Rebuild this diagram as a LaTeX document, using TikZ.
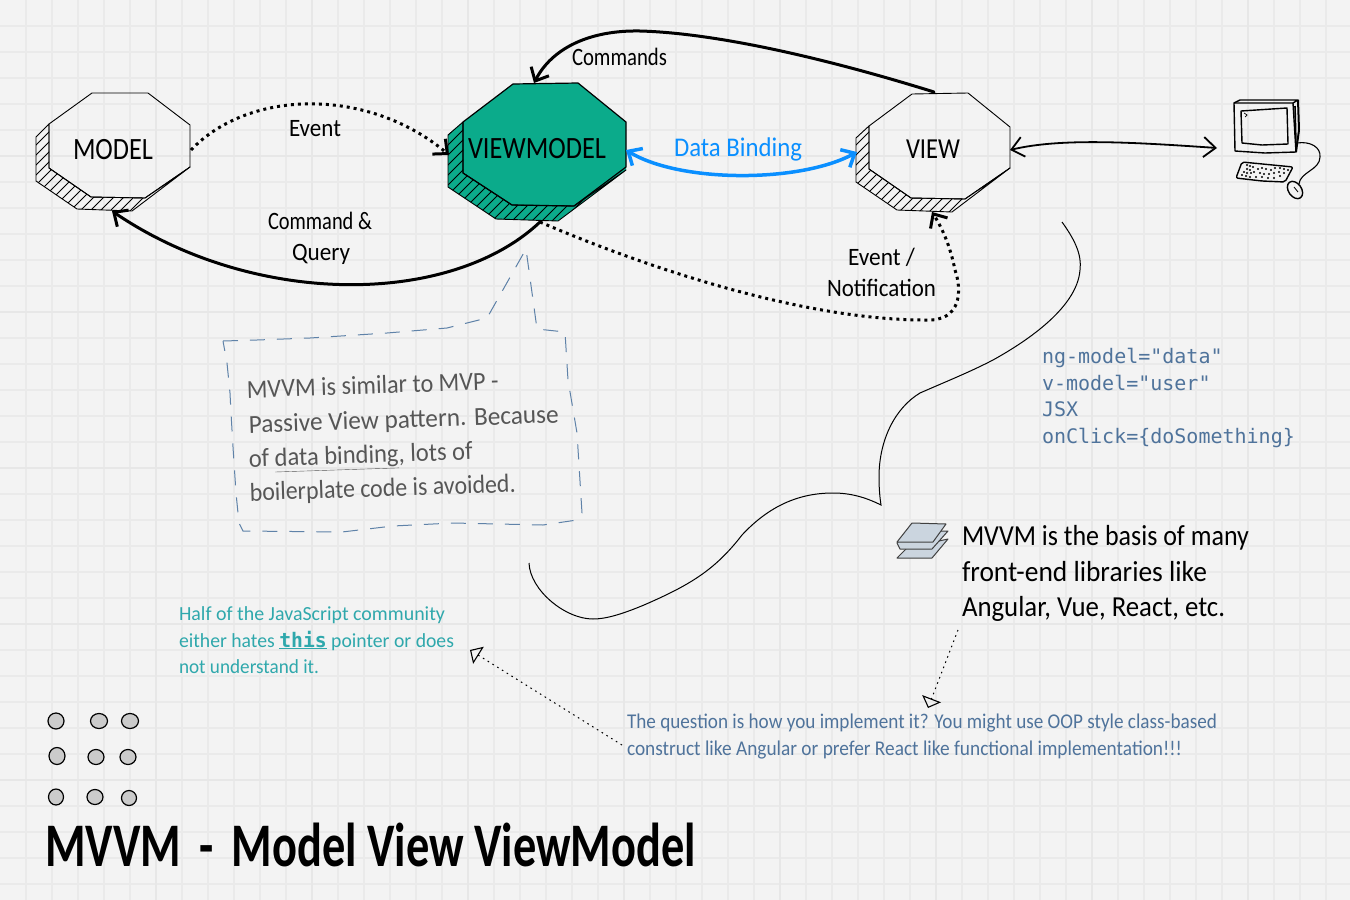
\documentclass[tikz,border=0pt]{standalone}
\usepackage{fontspec}
\usepackage{graphicx}
\setmainfont{Carlito}
\newfontfamily\codefont{DejaVu Sans Mono}
\usetikzlibrary{arrows.meta}
\definecolor{bgcol}{HTML}{F3F3F3}
\definecolor{gridcol}{HTML}{EAEAEA}
\definecolor{gridmaj}{HTML}{E7E7E7}
\definecolor{vmgreen}{HTML}{0BAB8B}
\definecolor{bindblue}{HTML}{0A8FFF}
\definecolor{noteblue}{HTML}{4F739B}
\definecolor{dashblue}{HTML}{5F82A8}
\definecolor{noteteal}{HTML}{2FA8AC}
\definecolor{notegray}{HTML}{565656}
\definecolor{sheetcol}{HTML}{CBD5DF}
\definecolor{dotcol}{HTML}{CBCBCB}
% width-fitted text: #1 width, #2 font size, #3 text
\newcommand\hw[3]{\resizebox{#1pt}{\height}{\fontsize{#2pt}{#2pt}\selectfont #3}}
\newcommand\hatchband[3]{%
  \begin{scope}
    \clip #1;
    \foreach \k in {0,...,60}{
      \pgfmathsetmacro\hx{#2-150+\k*#3}
      \pgfmathsetmacro\hy{\hx+150}
      \draw[hatchline] (\hx,245) -- (\hy,95);
    }
  \end{scope}
  \draw[octaline] #1;
}
\tikzset{
  lbl/.style={anchor=base west,inner sep=0pt,outer sep=0pt},
  octaline/.style={draw=black,line width=0.9pt,line join=round},
  hatchline/.style={draw=black,line width=0.75pt},
  heavy/.style={draw=black,line width=3pt,line cap=round,-{Straight Barb[length=11pt,width=20pt,line width=3pt]}},
  heavydot/.style={draw=black,line width=3pt,dash pattern=on 3pt off 4pt,-{Straight Barb[length=11pt,width=20pt,line width=3pt]}},
  bindarrow/.style={draw=bindblue,line width=3.5pt,{Straight Barb[length=11pt,width=20pt,line width=3.5pt]}-{Straight Barb[length=11pt,width=20pt,line width=3.5pt]}},
  iolink/.style={draw=black,line width=1.8pt,{Straight Barb[length=12pt,width=20pt,line width=1.8pt]}-{Straight Barb[length=12pt,width=20pt,line width=1.8pt]}},
  notelink/.style={draw=black,line width=1pt,dash pattern=on 1.6pt off 4pt,-{Triangle[open,length=10pt,width=20pt,line width=1.1pt,fill=none]}},
  thincurve/.style={draw=black,line width=1pt,line join=miter},
  bubble/.style={draw=dashblue,line width=1pt,dash pattern=on 15pt off 12pt},
  hand/.style={draw=black,line width=1.4pt,line join=round},
  sheet/.style={draw=black!75,line width=1pt,fill=sheetcol,line join=round},
  blob/.style={draw=black,line width=1.2pt,fill=dotcol},
}
\begin{document}
\begin{tikzpicture}[x=1pt,y=-1pt]
\useasboundingbox (0,0) rectangle (1350,900);
\fill[bgcol] (0,0) rectangle (1350,900);
\foreach \g in {1,...,51}{\draw[gridcol,line width=1.2pt] (\g*26,0) -- (\g*26,900);}
\foreach \g in {1,...,34}{\draw[gridcol,line width=1.2pt] (0,\g*26) -- (1350,\g*26);}
\foreach \g in {1,...,8}{\draw[gridmaj,line width=1.2pt] (\g*156,0) -- (\g*156,900);}
\foreach \g in {1,...,5}{\draw[gridmaj,line width=1.2pt] (0,\g*156) -- (1350,\g*156);}

% MODEL
\hatchband{(49,124) -- (36,137) -- (36,181) -- (77,209) -- (132,211) -- (190,167) -- (145,198) -- (91,197) -- (49,168) -- cycle}{36}{10}
\draw[octaline] (92,93) -- (148,93) -- (190,125) -- (190,167) -- (145,198) -- (91,197) -- (49,168) -- (49,124) -- cycle;
\node[lbl] (model) at (73,159) {\hw{80}{31}{MODEL}};
\coordinate (modelE) at (191,150);
\coordinate (modelS) at (112,211);

% VIEWMODEL
\fill[vmgreen] (463,122) -- (448,135) -- (448,187) -- (496,219) -- (558,221) -- (626,170) -- (626,122) -- (578,83) -- (513,84) -- cycle;
\hatchband{(463,122) -- (448,135) -- (448,187) -- (496,219) -- (558,221) -- (626,170) -- (574,206) -- (512,205) -- (463,173) -- cycle}{448}{10}
\draw[octaline,line width=1.2pt] (513,84) -- (578,83) -- (626,122) -- (626,167) -- (574,206) -- (512,205) -- (463,173) -- (463,122) -- cycle;
\node[lbl] (vm) at (468,158) {\hw{138}{31}{VIEWMODEL}};
\coordinate (vmN) at (534,83);
\coordinate (vmW) at (449,155);
\coordinate (vmE) at (626,150);
\coordinate (vmS) at (540,222);

% VIEW
\hatchband{(869,126) -- (856,138) -- (856,182) -- (897,210) -- (952,212) -- (1010,168) -- (965,199) -- (911,198) -- (869,169) -- cycle}{856}{10}
\draw[octaline] (912,94) -- (968,93) -- (1010,127) -- (1010,168) -- (965,199) -- (911,198) -- (869,169) -- (869,126) -- cycle;
\node[lbl] (view) at (906,158) {\hw{54}{29}{VIEW}};
\coordinate (viewN) at (934,92);
\coordinate (viewW) at (857,152);
\coordinate (viewE) at (1010,150);
\coordinate (viewS) at (932,212);

% computer
\coordinate (pc) at (1217,148);
\draw[hand] (1234,103) -- (1293,103) -- (1296,152) -- (1265,153) -- (1235,151) -- cycle;
\draw[hand] (1234,103) -- (1240,100) -- (1298,100) -- (1293,103);
\draw[hand,line width=2pt] (1298,100) -- (1299,130) -- (1296,152);
\draw[hand,line width=1.6pt] (1295,106) -- (1296,145);
\draw[hand] (1241,111) -- (1287,108) -- (1288,144) -- (1262,145) -- (1242,143) -- cycle;
\draw[line width=.7pt] (1244,113) -- (1247,115) -- (1245,117);
\draw[hand,rounded corners=2pt] (1242,162) -- (1293,167) -- (1285,182) -- (1262,181) -- (1236,178) -- cycle;
\foreach \kx/\ky in {1247/165,1250/166,1253/167,1247/169,1250/170,1244/172,1247/173,1251/173,1254/172,1258/169,1262/168,1266/169,1271/170,1275/168,1280/168,1284/169,1288/170,1260/173,1264/174,1269/174,1274/173,1279/172,1284/173,1242/175,1246/176,1250/177,1256/177,1262/177,1268/178,1274/178,1280/176}{
  \fill[black] (\kx,\ky) circle[radius=1.2pt];
}
\draw[hand,line width=1.1pt] (1297,143) .. controls (1310,141) and (1321,147) .. (1320,157) .. controls (1320,170) and (1300,172) .. (1299,184);
\draw[hand,rotate around={-55:(1295,190)}] (1295,190) ellipse[x radius=9.5pt,y radius=6.5pt];
\draw[line width=.8pt] (1294,187) -- (1298,192);

% connectors
\draw[heavydot] (modelE) .. controls (250,88) and (370,88) .. (vmW);
\draw[heavy] (vmS) .. controls (450,307) and (253,307) .. (modelS);
\draw[heavy] (viewN) .. controls (825,58) and (715,33) .. (640,31) .. controls (590,30) and (552,48) .. (vmN);
\draw[bindarrow] (vmE) .. controls (680,183) and (800,183) .. (viewW);
\draw[heavydot] (vmS) .. controls (640,265) and (800,320) .. (925,320) .. controls (962,322) and (962,290) .. (955,270) .. controls (950,245) and (942,228) .. (viewS);
\draw[iolink] (viewE) .. controls (1060,138) and (1130,142) .. (pc);

% labels
\node[lbl] (tEvent) at (289,136) {\hw{52}{25}{Event}};
\node[lbl] (tCommands) at (572,65) {\hw{95}{25}{Commands}};
\node[lbl,text=bindblue] (tBinding) at (674,156) {\hw{128}{27}{Data Binding}};
\node[lbl] (tCq1) at (268,229) {\hw{104}{25}{Command \&}};
\node[lbl] (tCq2) at (292,260) {\hw{58}{25}{Query}};
\node[lbl] (tEn1) at (848,265) {\hw{67}{25}{Event /}};
\node[lbl] (tEn2) at (827,296) {\hw{109}{25}{Notification}};

% long thin curve
\coordinate (curveA) at (1062,222);
\coordinate (curveB) at (529,563);
\draw[thincurve] (curveA) .. controls (1075,240) and (1082,255) .. (1080,270) .. controls (1077,310) and (1020,345) .. (993,360) .. controls (970,372) and (945,382) .. (920,393) .. controls (895,408) and (879,440) .. (879,477) .. controls (879,490) and (880,498) .. (881,505) .. controls (865,497) and (850,493) .. (833,493) .. controls (800,493) and (770,505) .. (742,535) .. controls (715,570) and (690,585) .. (644,605) .. controls (620,615) and (605,619) .. (593,619) .. controls (565,619) and (530,590) .. (curveB);

% code
\foreach \cy/\ct/\cn in {363/{ng-model="data"}/a,390/{v-model="user"}/b,416/{JSX}/c,443/{onClick=\{doSomething\}}/d}{
  \node[lbl,text=noteblue] (code\cn) at (1042,\cy) {\codefont\fontsize{20pt}{20pt}\selectfont \ct};
}

% speech bubble
\draw[bubble] (223,341) -- (257,340) -- (310,338) -- (387,333) -- (447,328) -- (487,318) -- (526,249) -- (537,329) -- (565,332) -- (568,380) -- (577,433) -- (582,513) -- (577,520) -- (543,525) -- (453,523) -- (393,526) -- (342,532) -- (243,531) -- (239,523) -- (236,493) -- (233,447) -- (231,413) -- (230,393) -- (227,363) -- cycle;
\node[lbl,text=notegray,rotate=1.9] (bub1) at (247,398) {\hw{252}{26}{MVVM is similar to MVP -}};
\node[lbl,text=notegray,rotate=1.9] (bub2) at (249,433) {\hw{310}{26}{Passive View pattern. Because}};
\node[lbl,text=notegray,rotate=1.9] (bub3) at (249,467) {\hw{224}{26}{of \underline{data binding}, lots of}};
\node[lbl,text=notegray,rotate=1.9] (bub4) at (250,501) {\hw{266}{26}{boilerplate code is avoided.}};

% stack icon
\draw[sheet] (907,548) -- (948,539) -- (932,558) -- (897,558) -- cycle;
\draw[sheet] (907,532) -- (948,531) -- (932,549) -- (900,549) -- (897,543) -- cycle;
\draw[sheet] (912,523) -- (946,524) -- (933,542) -- (897,542) -- cycle;

% notes
\node[lbl] (lib1) at (962,545) {\hw{287}{29}{MVVM is the basis of many}};
\node[lbl] (lib2) at (962,581) {\hw{245}{29}{front-end libraries like}};
\node[lbl] (lib3) at (962,616) {\hw{263}{29}{Angular, Vue, React, etc.}};

\node[lbl,text=noteteal] (js1) at (179,620) {\hw{266}{20}{Half of the JavaScript community}};
\node[lbl,text=noteteal] (js2) at (179,647) {\hw{275}{20}{either hates {\codefont\bfseries\underline{this}} pointer or does}};
\node[lbl,text=noteteal] (js3) at (179,673) {\hw{140}{20}{not understand it.}};

\node[lbl,text=noteblue] (q1) at (627,728) {\hw{590}{21}{The question is how you implement it? You might use OOP style class-based}};
\node[lbl,text=noteblue] (q2) at (627,755) {\hw{555}{21}{construct like Angular or prefer React like functional implementation!!!}};

\coordinate (hatesTip) at (470,650);
\coordinate (quesTip) at (928,708);
\coordinate (libFoot) at (958,630);
\coordinate (quesLeft) at (622,745);
\draw[notelink] (quesLeft) -- (hatesTip);
\draw[notelink] (libFoot) -- (quesTip);

% dots
\draw[blob] (56,721) ellipse[x radius=8pt,y radius=8pt];
\draw[blob] (99,721) ellipse[x radius=8.5pt,y radius=7.5pt];
\draw[blob] (130,721) ellipse[x radius=8.5pt,y radius=7.5pt];
\draw[blob] (57,756) ellipse[x radius=8pt,y radius=8.5pt];
\draw[blob] (96,757) ellipse[x radius=8pt,y radius=7.5pt];
\draw[blob] (128,757) ellipse[x radius=8pt,y radius=7.5pt];
\draw[blob] (56,797) ellipse[x radius=7.5pt,y radius=8pt];
\draw[blob] (95,797) ellipse[x radius=8pt,y radius=7.5pt];
\draw[blob] (129,798) ellipse[x radius=7.5pt,y radius=7.5pt];

% title
\node[lbl] (title) at (45,866) {\hw{651}{62}{\bfseries MVVM\, - \,Model View ViewModel}};
\end{tikzpicture}
\end{document}
